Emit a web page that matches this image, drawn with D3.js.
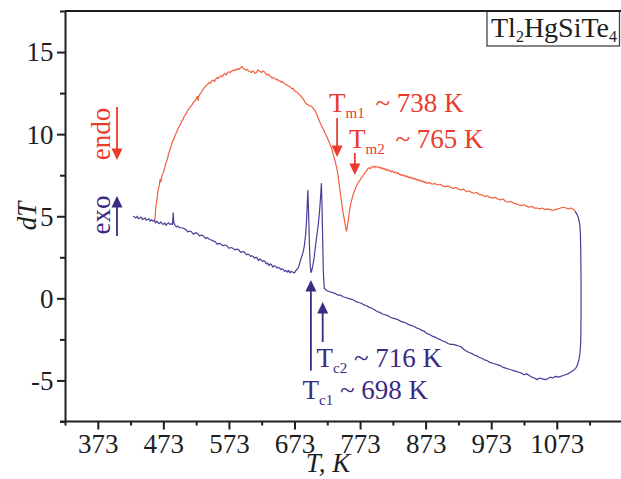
<!DOCTYPE html>
<html>
<head>
<meta charset="utf-8">
<script src="https://cdn.jsdelivr.net/npm/d3@7"></script>
<style>
  html, body { margin: 0; padding: 0; background: #fff; }
  svg { display: block; font-family: "Liberation Serif", "Times New Roman", serif; }
</style>
</head>
<body>
<svg id="chart" width="621" height="479"></svg>
<script>
// DTA trace of Tl2HgSiTe4: heating run (endo, red) and cooling run (exo, blue)
const heating = [
  [460,4.75],[461,5.3],[462,5.7],[463.5,6.1],[465,6.6],[466.5,6.8],[468,7.25],[469.5,7.1],[471,7.5],[473,7.65],
  [475,7.95],[477,8.25],[479,8.45],[481,8.8],[483,9.05],[485,9.3],[487,9.55],[489,9.7],[491,9.95],[493,10.1],
  [495,10.3],[497,10.45],[499,10.6],[501,10.8],[503,10.9],[505,11.1],[507,11.2],[509,11.35],[511,11.5],[513,11.6],
  [515,11.7],[517,11.8],[519,11.95],[521,12.0],[523,12.15],[525,12.3],[526,12.05],[527,12.3],[529,12.45],[531,12.55],
  [533,12.7],[535,12.8],[537,12.9],[539,13.0],[541,13.05],[543,13.15],[545,13.1],[547,13.25],[549,13.3],[551,13.2],
  [553,13.35],[555,13.45],[557,13.4],[559,13.5],[561,13.55],[563,13.5],[565,13.65],[567,13.7],[569,13.6],[571,13.75],
  [573,13.8],[575,13.75],[577,13.85],[579,13.9],[581,13.85],[583,13.95],[585,13.9],[587,14.0],[589,13.95],[591,14.05],
  [593,14.12],[595,14.0],[597,13.95],[599,13.9],[601,13.95],[603,13.85],[605,13.8],[607,13.75],[609,13.85],[611,13.8],
  [613,13.7],[615,13.75],[617,13.9],[619,13.85],[621,13.8],[623,13.75],[625,13.85],[627,13.8],[629,13.7],[631,13.6],
  [633,13.65],[635,13.55],[637,13.5],[639,13.4],[641,13.45],[643,13.4],[645,13.3],[647,13.35],[649,13.25],[651,13.25],
  [653,13.15],[655,13.2],[657,13.1],[659,13.05],[661,13.0],[663,12.95],[665,12.9],[667,12.85],[669,12.75],[671,12.8],
  [673,12.65],[675,12.6],[677,12.55],[679,12.45],[681,12.4],[683,12.3],[685,12.2],[687,12.1],[689,11.95],[691,11.85],
  [693,11.8],[695,11.75],[697,11.7],[699,11.7],[701,11.6],[703,11.5],[705,11.4],[707,11.2],[709,11.0],[711,10.8],
  [713,10.6],[715,10.45],[717,10.3],[719,10.1],[721,9.95],[723,9.8],[725,9.6],[727,9.4],[729,9.2],[731,8.95],
  [733,8.65],[735,8.35],[737,8.0],[739,7.6],[741,7.0],[743,6.4],[745,5.8],[747,5.25],[749,4.8],[750.5,4.45],
  [752,4.1],[753,4.2],[754,4.5],[755.5,4.9],[757,5.35],[759,5.8],[761,6.1],[763,6.4],[765,6.6],[767,6.8],
  [769,6.95],[771,7.1],[773,7.2],[775,7.35],[777,7.45],[779,7.55],[781,7.7],[783,7.75],[785,7.9],[787,7.95],
  [789,7.9],[791,8.0],[793,8.05],[795,7.95],[797,8.05],[799,8.0],[801,7.95],[803,8.0],[805,7.9],[807,7.95],
  [809,7.85],[811,7.9],[813,7.8],[815,7.85],[817,7.75],[819,7.8],[821,7.7],[823,7.75],[825,7.65],[827,7.7],
  [829,7.6],[831,7.65],[833,7.55],[835,7.5],[837,7.55],[839,7.45],[841,7.5],[843,7.4],[845,7.45],[847,7.35],
  [849,7.4],[851,7.3],[853,7.35],[855,7.25],[857,7.3],[859,7.2],[861,7.25],[863,7.15],[865,7.2],[867,7.1],
  [869,7.15],[871,7.05],[873,7.1],[875,7.0],[879,7.05],[883,6.95],[887,7.0],[891,6.9],[895,6.95],[899,6.85],
  [903,6.8],[907,6.85],[911,6.75],[915,6.7],[919,6.75],[923,6.65],[927,6.6],[931,6.65],[935,6.5],[939,6.55],
  [943,6.45],[947,6.4],[951,6.45],[955,6.3],[959,6.3],[963,6.2],[967,6.25],[971,6.15],[975,6.1],[979,6.15],
  [983,6.05],[987,6.0],[991,6.05],[995,5.9],[999,5.85],[1003,5.9],[1007,5.8],[1011,5.75],[1015,5.7],[1019,5.65],
  [1023,5.7],[1027,5.6],[1031,5.55],[1035,5.6],[1039,5.5],[1043,5.5],[1047,5.45],[1051,5.5],[1055,5.4],[1059,5.45],
  [1063,5.4],[1067,5.35],[1071,5.4],[1075,5.45],[1079,5.5],[1083,5.55],[1087,5.5],[1091,5.45],[1095,5.5],[1099,5.4],
  [1101,5.3]
];

const cooling = [
  [1101,5.3],[1104,5.1],[1106,4.9],[1108,4.5],[1109,4.0],[1109.5,3.0],[1109.8,2.0],[1110,1.0],[1110,0.0],[1110,-1.0],
  [1109.8,-2.0],[1109.3,-2.8],[1108.5,-3.3],[1107,-3.7],[1105,-4.0],[1102,-4.25],[1098,-4.4],[1094,-4.5],[1090,-4.6],[1086,-4.65],
  [1083,-4.7],[1079,-4.75],[1075,-4.8],[1071,-4.75],[1067,-4.85],[1063,-4.8],[1059,-4.9],[1055,-4.95],[1051,-4.9],[1047,-4.85],
  [1043,-4.95],[1039,-4.85],[1035,-4.8],[1031,-4.7],[1027,-4.6],[1023,-4.65],[1019,-4.55],[1015,-4.5],[1011,-4.45],[1007,-4.4],
  [1003,-4.35],[999,-4.3],[995,-4.25],[991,-4.2],[987,-4.1],[983,-4.05],[979,-4.0],[975,-3.95],[971,-3.9],[967,-3.8],
  [963,-3.75],[959,-3.65],[955,-3.6],[951,-3.5],[947,-3.45],[943,-3.35],[939,-3.3],[935,-3.2],[931,-3.1],[927,-2.95],
  [923,-2.9],[919,-2.85],[915,-2.8],[911,-2.8],[907,-2.75],[903,-2.65],[899,-2.6],[895,-2.5],[891,-2.45],[887,-2.35],
  [883,-2.3],[879,-2.2],[875,-2.15],[871,-2.0],[867,-1.95],[863,-1.85],[859,-1.8],[855,-1.7],[851,-1.65],[847,-1.6],
  [843,-1.5],[839,-1.45],[835,-1.4],[831,-1.3],[827,-1.25],[823,-1.2],[819,-1.15],[815,-1.05],[811,-1.0],[807,-0.95],
  [803,-0.85],[799,-0.8],[795,-0.7],[791,-0.6],[787,-0.55],[783,-0.45],[779,-0.4],[775,-0.3],[771,-0.25],[767,-0.2],
  [763,-0.1],[759,-0.05],[755,0.0],[751,0.05],[747,0.1],[743,0.2],[739,0.2],[735,0.3],[731,0.35],[727,0.4],
  [723,0.45],[720,0.55],[718.5,0.6],[717,1.6],[716,3.5],[715,5.6],[714,6.99],[713,6.3],[711,5.2],[709,4.4],
  [707,3.8],[705,3.2],[703,2.5],[701,2.0],[699,1.65],[698,1.58],[697,2.0],[696,3.0],[695,4.5],[694,5.8],
  [693.4,6.58],[692.5,5.8],[691.5,4.8],[690,3.9],[688,3.2],[686,2.8],[684,2.55],[682,2.3],[680,2.0],[678,1.8],
  [676,1.75],[674,1.6],[672,1.55],[670,1.6],[668,1.65],[666,1.55],[664,1.7],[662,1.6],[660,1.7],[658,1.65],
  [656,1.75],[654,1.8],[652,1.75],[650,1.85],[648,1.9],[646,1.85],[644,1.95],[642,2.0],[640,1.9],[638,2.05],
  [636,2.1],[634,2.0],[632,2.15],[630,2.1],[628,2.25],[626,2.3],[624,2.25],[622,2.35],[620,2.4],[618,2.3],
  [616,2.45],[614,2.5],[612,2.45],[610,2.55],[608,2.6],[606,2.55],[604,2.65],[602,2.7],[600,2.65],[597,2.8],
  [594,2.85],[591,2.8],[588,2.95],[585,3.0],[582,2.95],[579,3.05],[576,3.1],[573,3.05],[570,3.2],[567,3.25],
  [564,3.2],[561,3.3],[558,3.35],[555,3.3],[552,3.45],[549,3.5],[546,3.55],[543,3.6],[540,3.7],[537,3.65],
  [534,3.8],[531,3.85],[528,3.8],[525,3.95],[522,4.0],[519,3.9],[516,4.05],[513,4.1],[510,4.05],[507,4.2],
  [504,4.25],[501,4.3],[498,4.3],[495,4.4],[493,4.35],[491,4.45],[489,4.6],[488,5.2],[487,4.5],[485,4.55],
  [483,4.5],[481,4.6],[479,4.55],[477,4.45],[475,4.6],[473,4.5],[471,4.55],[469,4.65],[467,4.55],[465,4.6],
  [463,4.7],[461,4.6],[459,4.75],[457,4.7],[455,4.8],[453,4.7],[451,4.85],[449,4.8],[447,4.75],[445,4.9],
  [443,4.85],[441,4.8],[439,4.95],[437,4.9],[435,4.85],[433,5.0],[431,4.9],[429,4.95],[427,5.0]
];

// axis ticks
const xMajorTicks = [373, 473, 573, 673, 773, 873, 973, 1073];
const xMinorTicks = [323, 423, 523, 623, 723, 823, 923, 1023, 1123];
const yMajorTicks = [-5, 0, 5, 10, 15];
const yMinorTicks = [-7.5, -2.5, 2.5, 7.5, 12.5, 17.5];

// transition temperatures marked with arrows
const meltPoints = [738, 765];
const crystPoints = [698, 716];

const RED = "#ea3b2c", RED_LINE = "#f0603f";
const BLUE = "#3b2a84", BLUE_LINE = "#4b3c98";
const INK = "#1e1e1e";

const svg = d3.select("#chart");
const plotLeft = 65, plotTop = 11, plotBottom = 421.5;

const x = d3.scaleLinear().domain([323, 1173]).range([plotLeft, plotLeft + 850 * 0.6557]);
const y = d3.scaleLinear().domain([-7.5, 17.5]).range([plotBottom, plotTop]);

// curves
const line = d3.line().x(d => x(d[0])).y(d => y(d[1]));
svg.append("path").datum(heating).attr("d", line)
  .attr("fill", "none").attr("stroke", RED_LINE).attr("stroke-width", 1.2).attr("stroke-linejoin", "round");
svg.append("path").datum(cooling).attr("d", line)
  .attr("fill", "none").attr("stroke", BLUE_LINE).attr("stroke-width", 1.2).attr("stroke-linejoin", "round");

// axes
const fontSize = 27;
function styleAxis(g) {
  g.selectAll(".domain").attr("stroke", INK).attr("stroke-width", 2);
  g.selectAll(".tick line").attr("stroke", INK).attr("stroke-width", 2);
  g.selectAll("text").attr("fill", INK).attr("font-size", fontSize)
    .attr("font-family", "Liberation Serif, Times New Roman, serif");
}
const xAxisMinor = svg.append("g").attr("transform", `translate(0,${plotBottom})`)
  .call(d3.axisBottom(x).tickValues(xMinorTicks).tickSize(4).tickFormat(""));
styleAxis(xAxisMinor);
xAxisMinor.select(".domain").remove();
const xAxis = svg.append("g").attr("transform", `translate(0,${plotBottom})`)
  .call(d3.axisBottom(x).tickValues(xMajorTicks).tickSize(8).tickSizeOuter(0).tickFormat(d => String(d)));
styleAxis(xAxis);
xAxis.selectAll("text").attr("y", 31.5).attr("dy", 0);
xAxis.select(".domain").attr("d", `M${plotLeft - 5},0H621`);

const yAxisMinor = svg.append("g").attr("transform", `translate(${plotLeft},0)`)
  .call(d3.axisLeft(y).tickValues(yMinorTicks).tickSize(5).tickFormat(""));
styleAxis(yAxisMinor);
yAxisMinor.select(".domain").remove();
const yAxis = svg.append("g").attr("transform", `translate(${plotLeft},0)`)
  .call(d3.axisLeft(y).tickValues(yMajorTicks).tickSize(8).tickSizeOuter(0).tickPadding(3.5).tickFormat(d => String(d)));
styleAxis(yAxis);
yAxis.selectAll("text").attr("dy", "0.33em");

// upper frame line
svg.append("line").attr("x1", plotLeft).attr("x2", 621).attr("y1", plotTop).attr("y2", plotTop)
  .attr("stroke", INK).attr("stroke-width", 2);

// axis titles
svg.append("text").attr("x", 328).attr("y", 472).attr("text-anchor", "middle")
  .attr("font-size", fontSize).attr("font-style", "italic").attr("fill", INK).text("T, K");
svg.append("text").attr("transform", "translate(36,216) rotate(-90)").attr("text-anchor", "middle")
  .attr("font-size", fontSize).attr("font-style", "italic").attr("fill", INK).text("dT");

// compound name box
svg.append("rect").attr("x", 487).attr("y", plotTop).attr("width", 132.5).attr("height", 35)
  .attr("fill", "#fff").attr("stroke", "#444").attr("stroke-width", 1.3);
svg.append("line").attr("x1", 487).attr("x2", 621).attr("y1", plotTop).attr("y2", plotTop)
  .attr("stroke", INK).attr("stroke-width", 2);
const compound = svg.append("text").attr("x", 491).attr("y", 37).attr("font-size", 28).attr("fill", INK);
compound.append("tspan").text("Tl");
compound.append("tspan").attr("font-size", 16).attr("dy", 5).text("2");
compound.append("tspan").attr("dy", -5).text("HgSiTe");
compound.append("tspan").attr("font-size", 16).attr("dy", 5).text("4");

// vertical arrow: shaft from tail to the head, filled triangle at the tip
function arrowPx(px, yTail, yTip, color) {
  const dir = yTip > yTail ? 1 : -1;
  const headLen = 11.5, halfW = 5.5;
  svg.append("line").attr("x1", px).attr("x2", px)
    .attr("y1", yTail).attr("y2", yTip - dir * (headLen - 1))
    .attr("stroke", color).attr("stroke-width", 1.8);
  svg.append("path")
    .attr("d", `M${px - halfW},${yTip - dir * headLen}L${px + halfW},${yTip - dir * headLen}L${px},${yTip}Z`)
    .attr("fill", color);
}

// endo / exo direction hints
svg.append("text").attr("transform", "translate(109.5,134) rotate(-90)").attr("text-anchor", "middle")
  .attr("font-size", fontSize).attr("fill", RED).text("endo");
arrowPx(117, 107, 160, RED);
svg.append("text").attr("transform", "translate(109.5,215) rotate(-90)").attr("text-anchor", "middle")
  .attr("font-size", fontSize).attr("fill", BLUE).text("exo");
arrowPx(117, 236, 196, BLUE);

// transition labels
function label(px, py, sub, rest, color, gap) {
  const t = svg.append("text").attr("x", px).attr("y", py).attr("font-size", fontSize).attr("fill", color);
  t.append("tspan").text("T");
  t.append("tspan").attr("font-size", 15).attr("dy", 6).text(sub);
  t.append("tspan").attr("dy", -6).attr("dx", gap).text(" ~ " + rest);
}
label(329, 111.5, "m1", "738 K", RED, 4);
label(349, 148, "m2", "765 K", RED, 4);
label(316.5, 367, "c2", "716 K", BLUE, 0);
label(302.5, 399, "c1", "698 K", BLUE, 0);

// arrows pointing at the transition temperatures
arrowPx(x(meltPoints[0]), y(10.98), y(8.61), RED);
arrowPx(x(meltPoints[1]), y(8.85), y(7.51), RED);
arrowPx(x(crystPoints[0]), y(-4.4), y(1.12), BLUE);
arrowPx(x(crystPoints[1]), y(-2.66), y(-0.22), BLUE);
</script>
</body>
</html>
